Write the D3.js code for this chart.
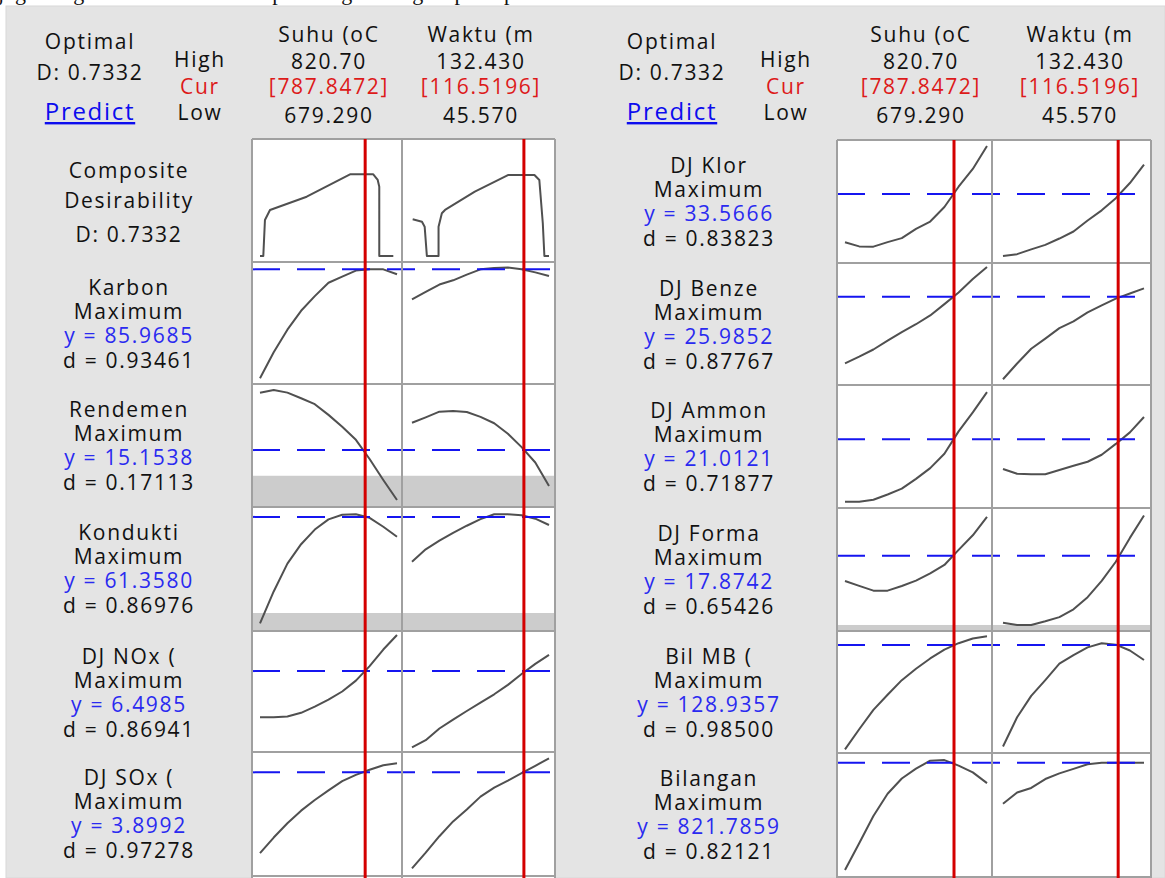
<!DOCTYPE html>
<html>
<head>
<meta charset="utf-8">
<script src="https://cdn.jsdelivr.net/npm/d3@7"></script>
<style>
  body { margin: 0; background: #fff; }
  svg text { font-family: "Open Sans", sans-serif; font-size: 21px; letter-spacing: 1.7px; fill: #111; }
</style>
</head>
<body>
<svg id="chart" width="1165" height="878"></svg>
<script>
// factor settings
var factorNames = ["Suhu (oC", "Waktu (m"];
var highLabels = ["820.70", "132.430"];
var curLabels = ["[787.8472]", "[116.5196]"];
var lowLabels = ["679.290", "45.570"];
var suhuRange = [679.29, 820.70];
var waktuRange = [45.57, 132.43];
var current = [787.8472, 116.5196];
var suhuGrid = [679.29, 693.43, 707.57, 721.71, 735.85, 749.99, 764.14, 778.28, 792.42, 806.56, 820.70];
var waktuGrid = [45.57, 54.26, 62.94, 71.63, 80.31, 89.00, 97.69, 106.37, 115.06, 123.74, 132.43];

// composite desirability traces (factor value, relative height)
var compSuhu = [[679.29,0.049],[682.7,0.049],[684.4,0.341],[689.6,0.423],[727.5,0.531],[772.2,0.713],
  [796.2,0.713],[800.8,0.667],[802.4,0.612],[802.4,0.049],[816.9,0.049]];
var compWaktu = [[46.0,0.347],[51.9,0.328],[53.6,0.287],[55.0,0.049],[62.4,0.049],[62.4,0.287],[64.5,0.396],
  [66.5,0.423],[85.4,0.572],[106.4,0.707],[123.2,0.707],[126.3,0.667],[128.5,0.315],[129.5,0.049],[132.43,0.049]];

// left block responses
var leftNames = ["Karbon", "Rendemen", "Kondukti", "DJ NOx (", "DJ SOx ("];
var leftY = ["85.9685", "15.1538", "61.3580", "6.4985", "3.8992"];
var leftD = ["0.93461", "0.17113", "0.86976", "0.86941", "0.97278"];
var leftTarget = [0.94, 0.463, 0.92, 0.669, 0.836];
var leftBand = [0, 0.254, 0.145, 0, 0];
var leftSuhu = [
  [0.047,0.26,0.445,0.60,0.72,0.83,0.88,0.93,0.94,0.94,0.90],
  [0.929,0.951,0.93,0.884,0.836,0.749,0.653,0.546,0.39,0.22,0.057],
  [0.062,0.319,0.543,0.70,0.818,0.90,0.938,0.941,0.913,0.841,0.76],
  [0.287,0.287,0.294,0.324,0.375,0.432,0.50,0.59,0.71,0.847,0.967],
  [0.185,0.31,0.425,0.527,0.613,0.69,0.765,0.816,0.857,0.893,0.909]
];
var leftWaktu = [
  [0.693,0.755,0.815,0.85,0.897,0.94,0.95,0.955,0.94,0.915,0.885],
  [0.685,0.729,0.775,0.78,0.772,0.733,0.681,0.596,0.487,0.362,0.17],
  [0.559,0.659,0.729,0.792,0.849,0.902,0.941,0.941,0.934,0.906,0.855],
  [0.039,0.098,0.194,0.268,0.339,0.408,0.477,0.555,0.645,0.728,0.802],
  [0.062,0.188,0.321,0.44,0.537,0.64,0.713,0.769,0.829,0.889,0.949]
];

// right block responses
var rightNames = ["DJ Klor", "DJ Benze", "DJ Ammon", "DJ Forma", "Bil MB (", "Bilangan"];
var rightY = ["33.5666", "25.9852", "21.0121", "17.8742", "128.9357", "821.7859"];
var rightD = ["0.83823", "0.87767", "0.71877", "0.65426", "0.98500", "0.82121"];
var rightTarget = [0.561, 0.724, 0.559, 0.612, 0.885, 0.922];
var rightBand = [0, 0, 0, 0.049, 0, 0];
var rightSuhu = [
  [0.168,0.135,0.133,0.17,0.202,0.278,0.337,0.455,0.62,0.765,0.951],
  [0.178,0.232,0.291,0.363,0.433,0.498,0.57,0.663,0.759,0.868,0.967],
  [0.051,0.051,0.067,0.11,0.157,0.237,0.324,0.441,0.623,0.778,0.942],
  [0.407,0.367,0.328,0.328,0.366,0.41,0.468,0.537,0.66,0.778,0.927],
  [0.03,0.195,0.353,0.477,0.597,0.691,0.775,0.848,0.90,0.939,0.957],
  [0.056,0.272,0.492,0.671,0.794,0.874,0.938,0.943,0.898,0.844,0.757]
];
var rightWaktu = [
  [0.057,0.072,0.111,0.147,0.199,0.256,0.346,0.428,0.527,0.65,0.80],
  [0.047,0.176,0.297,0.38,0.466,0.522,0.595,0.653,0.708,0.75,0.792],
  [0.317,0.278,0.274,0.274,0.309,0.343,0.376,0.433,0.521,0.615,0.74],
  [0.067,0.049,0.049,0.079,0.113,0.176,0.275,0.407,0.563,0.757,0.939],
  [0.053,0.293,0.468,0.598,0.732,0.803,0.866,0.899,0.888,0.84,0.762],
  [0.59,0.681,0.718,0.79,0.836,0.872,0.909,0.922,0.922,0.922,0.922]
];

var svg = d3.select("#chart");

// background
svg.append("rect").attr("x", 0).attr("y", 0).attr("width", 1165).attr("height", 878).attr("fill", "#fff");
// tail of the caption line above the screenshot, only its descenders show
svg.append("text").attr("x", -2).attr("y", 0)
  .style("font-family", "Liberation Serif").style("font-size", "22px").style("letter-spacing", "0px")
  .text("juga dengan kombinasi terhadap masing-masing respon optimum");
svg.append("rect").attr("x", 6).attr("y", 6).attr("width", 1159).attr("height", 872)
  .attr("fill", "#e4e4e4").attr("stroke", "#d8d8d8").attr("stroke-width", 1);

var blue = "#2a2af0", red = "#dd1a1a";

var drawBlock = function(cfg)
{
  var g = svg.append("g");
  // header
  var hx = cfg.headX;
  var txt = function(x, y, s, color) {
    return g.append("text").attr("x", x).attr("y", y).attr("text-anchor", "middle")
      .style("fill", color || "#111").text(s);
  };
  txt(hx[0], 49, "Optimal");
  txt(hx[0], 80, "D: 0.7332");
  txt(hx[0], 120, "Predict", "#0c0cee").style("text-decoration", "underline").style("font-size", "24px");
  txt(hx[1], 67, "High");
  txt(hx[1], 94, "Cur", red);
  txt(hx[1], 120, "Low");
  for (var c = 0; c < 2; c++) {
    txt(hx[2 + c], 42, factorNames[c]);
    txt(hx[2 + c], 69, highLabels[c]);
    txt(hx[2 + c], 94, curLabels[c], red);
    txt(hx[2 + c], 123, lowLabels[c]);
  }

  var xs = [
    d3.scaleLinear().domain(suhuRange).range(cfg.curveX[0]),
    d3.scaleLinear().domain(waktuRange).range(cfg.curveX[1])
  ];
  var grids = [suhuGrid, waktuGrid];
  var rows = cfg.rows;
  var px = cfg.plotX;

  // white cells
  g.append("rect").attr("x", px[0]).attr("y", rows[0]).attr("width", px[2] - px[0])
    .attr("height", 878 - rows[0]).attr("fill", "#fff");

  cfg.panels.forEach(function(p, r) {
    var top = rows[r], bottom = rows[r + 1];
    var y = d3.scaleLinear().domain([0, 1]).range([bottom, top]);
    var cx = cfg.labelX;
    if (p.composite) {
      txt(cx, top + 39, "Composite");
      txt(cx, top + 69, "Desirability");
      txt(cx, top + 103, "D: 0.7332");
    } else {
      txt(cx, top + 33, p.name);
      txt(cx, top + 57, "Maximum");
      txt(cx, top + 81, "y = " + p.yv, blue);
      txt(cx, top + 106, "d = " + p.dv);
    }
    if (p.band > 0) {
      g.append("rect").attr("x", px[0]).attr("y", y(p.band)).attr("width", px[2] - px[0])
        .attr("height", y(0) - y(p.band)).attr("fill", "#cccccc");
    }
    for (var c = 0; c < 2; c++) {
      var pts = p.composite ? p.curves[c] : grids[c].map(function(v, i) { return [v, p.curves[c][i]]; });
      var line = d3.line().x(function(d) { return xs[c](d[0]); }).y(function(d) { return y(d[1]); });
      g.append("path").attr("d", line(pts)).attr("fill", "none")
        .attr("stroke", "#505050").attr("stroke-width", 2).attr("stroke-linejoin", "round");
    }
    if (!p.composite) {
      g.append("line").attr("x1", px[0]).attr("x2", px[2]).attr("y1", y(p.target)).attr("y2", y(p.target))
        .attr("stroke", "#1515f0").attr("stroke-width", 2).attr("stroke-dasharray", "28 17");
    }
  });

  // grid
  rows.forEach(function(ry) {
    g.append("line").attr("x1", px[0]).attr("x2", px[2]).attr("y1", ry).attr("y2", ry)
      .attr("stroke", "#a0a0a0").attr("stroke-width", 2);
  });
  px.forEach(function(vx) {
    g.append("line").attr("x1", vx).attr("x2", vx).attr("y1", rows[0]).attr("y2", 878)
      .attr("stroke", "#a0a0a0").attr("stroke-width", 2);
  });
  // current setting lines
  for (var c2 = 0; c2 < 2; c2++) {
    var cxp = xs[c2](current[c2]);
    g.append("line").attr("x1", cxp).attr("x2", cxp).attr("y1", rows[0]).attr("y2", 878)
      .attr("stroke", "#d40000").attr("stroke-width", 3);
  }
};

var leftPanels = [{ composite: true, curves: [compSuhu, compWaktu] }];
leftNames.forEach(function(n, i) {
  leftPanels.push({ name: n, yv: leftY[i], dv: leftD[i], target: leftTarget[i], band: leftBand[i],
    curves: [leftSuhu[i], leftWaktu[i]] });
});
var rightPanels = rightNames.map(function(n, i) {
  return { name: n, yv: rightY[i], dv: rightD[i], target: rightTarget[i], band: rightBand[i],
    curves: [rightSuhu[i], rightWaktu[i]] };
});

drawBlock({
  headX: [90, 200, 329, 481], labelX: 129,
  plotX: [252, 402, 555], curveX: [[260, 397], [412, 549]],
  rows: [139, 262, 384, 507, 631, 752, 876], panels: leftPanels
});
drawBlock({
  headX: [672, 786, 921, 1080], labelX: 709,
  plotX: [837, 992, 1151], curveX: [[845, 987], [1003, 1144]],
  rows: [140, 263, 385, 508, 631, 753, 877], panels: rightPanels
});
</script>
</body>
</html>
